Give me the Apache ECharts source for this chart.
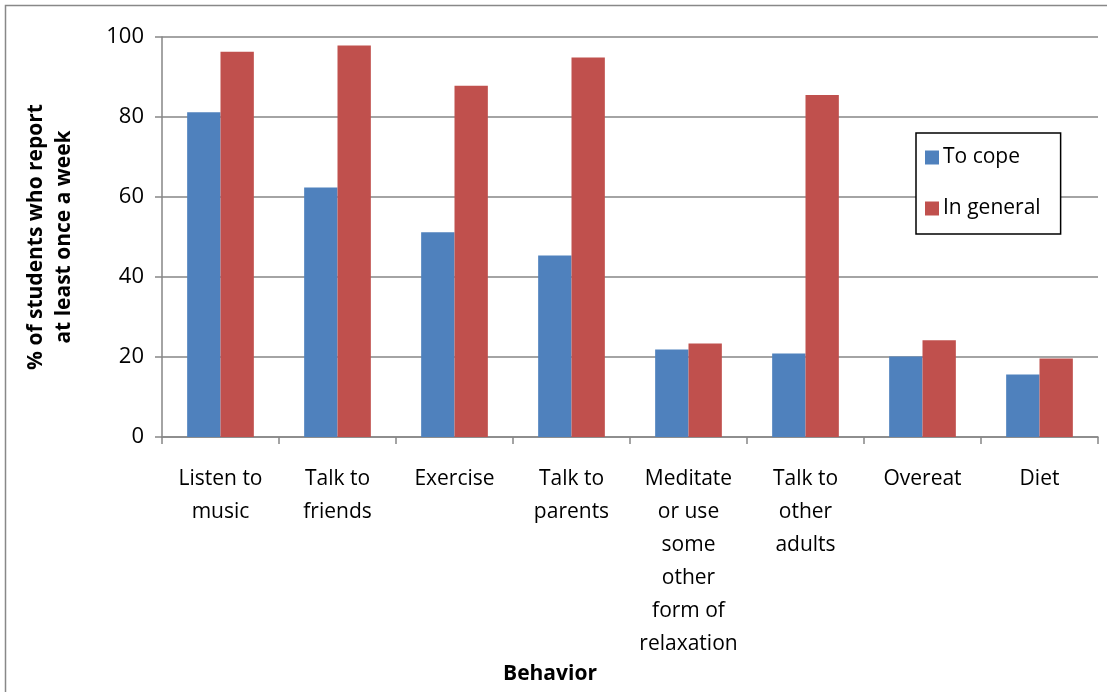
<!DOCTYPE html>
<html><head><meta charset="utf-8">
<script src="https://cdn.jsdelivr.net/npm/echarts@6/dist/echarts.min.js"></script>
<style>html,body{margin:0;padding:0;background:#fff}#c{width:1107px;height:692px}</style>
</head><body><div id="c"></div>
<script>
const categories = ["Listen to\nmusic","Talk to\nfriends","Exercise","Talk to\nparents","Meditate\nor use\nsome\nother\nform of\nrelaxation","Talk to\nother\nadults","Overeat","Diet"];
const toCope = [81.2, 62.4, 51.2, 45.4, 21.9, 20.9, 20.1, 15.6];
const inGeneral = [96.3, 97.9, 87.8, 94.9, 23.4, 85.5, 24.2, 19.6];
const yTicks = [0, 20, 40, 60, 80, 100];

const FONT = "Open Sans";
const chart = echarts.init(document.getElementById('c'), null, {renderer:'canvas'});
chart.setOption({
  animation: false,
  backgroundColor: '#fff',
  graphic: [{type:'rect', shape:{x:5.5,y:5.5,width:1200,height:800}, style:{fill:null, stroke:'#888', lineWidth:1.5}, silent:true}],
  title: {text:'Behavior', left:545, top:659, textAlign:'center', textStyle:{fontFamily:FONT, fontSize:21, fontWeight:'bold', color:'#000'}},
  legend: {
    orient:'vertical', left:916, top:133,
    padding:[14,20,15,9], itemGap:30, itemWidth:14, itemHeight:14,
    icon:'rect', borderColor:'#000', borderWidth:1.5, backgroundColor:'#fff',
    textStyle:{fontFamily:FONT, fontSize:21, color:'#000', padding:[0,0,0,-1]},
    data:['To cope','In general']
  },
  grid: {left:162, right:9, top:37, bottom:255, containLabel:false},
  xAxis: {
    type:'category', data:categories,
    axisLine:{lineStyle:{color:'#868686', width:1.5}},
    axisTick:{show:true, length:7, lineStyle:{color:'#868686', width:1.5}},
    axisLabel:{fontFamily:FONT, fontSize:21, color:'#000', lineHeight:33, margin:26, interval:0}
  },
  yAxis: {
    type:'value', min:yTicks[0], max:yTicks[yTicks.length-1], interval:20,
    name:'% of students who report\nat least once a week', nameLocation:'middle', nameGap:84, nameRotate:90,
    nameTextStyle:{fontFamily:FONT, fontSize:21, fontWeight:'bold', color:'#000', lineHeight:28},
    axisLine:{show:true, lineStyle:{color:'#868686', width:1.5}},
    axisTick:{show:true, length:7, lineStyle:{color:'#868686', width:1.5}},
    axisLabel:{fontFamily:FONT, fontSize:22, color:'#000', margin:18},
    splitLine:{lineStyle:{color:'#868686', width:1.5}}
  },
  series: [
    {name:'To cope', type:'bar', data:toCope, barGap:'0%', barCategoryGap:'43%', itemStyle:{color:'#4F81BD'}},
    {name:'In general', type:'bar', data:inGeneral, barGap:'0%', barCategoryGap:'43%', itemStyle:{color:'#C0504D'}}
  ]
});
</script></body></html>
